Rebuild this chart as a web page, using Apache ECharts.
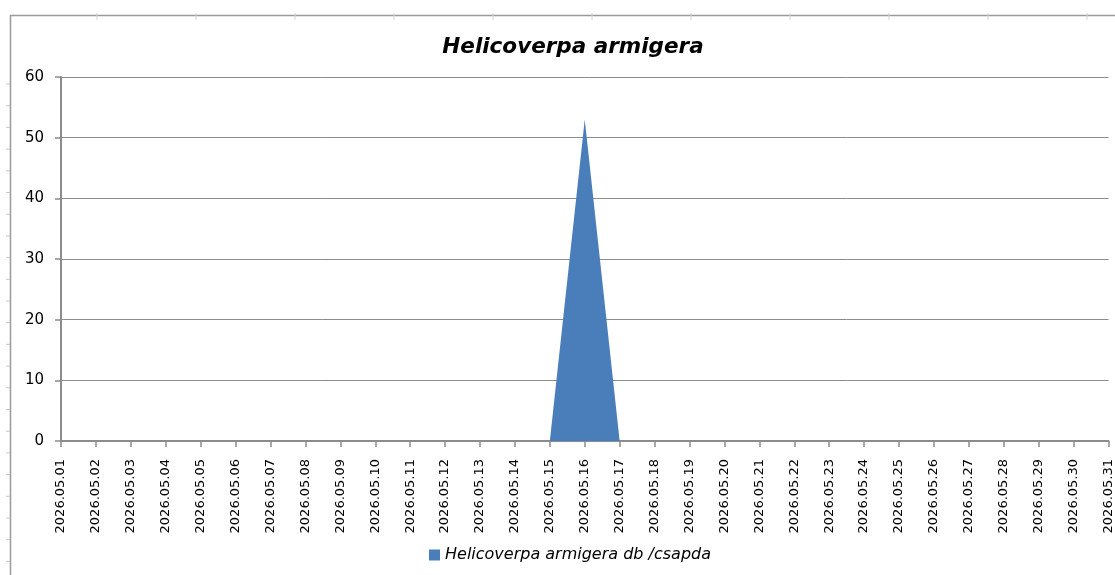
<!DOCTYPE html>
<html>
<head>
<meta charset="utf-8">
<script src="https://cdn.jsdelivr.net/npm/echarts@6/dist/echarts.min.js"></script>
<style>
  html, body { margin: 0; padding: 0; background: #fff; }
  #chart { width: 1115px; height: 575px; }
</style>
</head>
<body>
<div id="chart"></div>
<script>
// napi fogás (db / csapda)
const days = [
  '2026.05.01', '2026.05.02', '2026.05.03', '2026.05.04', '2026.05.05',
  '2026.05.06', '2026.05.07', '2026.05.08', '2026.05.09', '2026.05.10',
  '2026.05.11', '2026.05.12', '2026.05.13', '2026.05.14', '2026.05.15',
  '2026.05.16', '2026.05.17', '2026.05.18', '2026.05.19', '2026.05.20',
  '2026.05.21', '2026.05.22', '2026.05.23', '2026.05.24', '2026.05.25',
  '2026.05.26', '2026.05.27', '2026.05.28', '2026.05.29', '2026.05.30',
  '2026.05.31'
]
const catches = [
  0, 0, 0, 0, 0, 0, 0, 0, 0, 0,
  0, 0, 0, 0, 0, 53, 0, 0, 0, 0,
  0, 0, 0, 0, 0, 0, 0, 0, 0, 0, 0
]
const seriesName = 'Helicoverpa armigera db /csapda'
const titleText = 'Helicoverpa armigera'

const chart = echarts.init(document.getElementById('chart'))

// keret + a táblázat halvány jelölései
const frame = [
  {
    type: 'polyline',
    shape: { points: [[10.5, 575], [10.5, 15.5], [1115, 15.5]] },
    style: { stroke: '#9a9a9a', lineWidth: 1.5, fill: null }
  }
]
for (let x = 97; x < 1115; x += 99) {
  frame.push({
    type: 'line',
    shape: { x1: x, y1: 13, x2: x, y2: 20 },
    style: { stroke: '#d4d4d4', lineWidth: 1 }
  })
}
for (let y = 84; y < 575; y += 21.7) {
  frame.push({
    type: 'line',
    shape: { x1: 6, y1: y, x2: 10, y2: y },
    style: { stroke: '#c8c8c8', lineWidth: 1 }
  })
}

const option = {
  animation: false,
  graphic: frame,
  title: {
    text: titleText,
    left: 568,
    textAlign: 'center',
    top: 31,
    textStyle: {
      fontFamily: 'DejaVu Sans',
      fontSize: 21.5,
      fontWeight: 'bold',
      fontStyle: 'italic',
      color: '#000'
    }
  },
  legend: {
    bottom: 7,
    left: 424,
    itemWidth: 11,
    itemHeight: 11,
    icon: 'rect',
    itemGap: 4,
    textStyle: {
      fontFamily: 'DejaVu Sans',
      fontSize: 16,
      fontStyle: 'italic',
      color: '#000'
    },
    data: [seriesName]
  },
  grid: {
    left: 61,
    right: 3,
    top: 77,
    bottom: 134,
    containLabel: false
  },
  xAxis: {
    type: 'category',
    data: days,
    boundaryGap: false,
    axisLine: { lineStyle: { color: '#8c8c8c', width: 2 } },
    axisTick: { show: true, length: 6, alignWithLabel: true, lineStyle: { color: '#8c8c8c', width: 1.5 } },
    axisLabel: {
      rotate: 90,
      interval: 0,
      margin: 18,
      fontFamily: 'DejaVu Sans',
      fontSize: 13,
      color: '#000'
    },
    splitLine: { show: false }
  },
  yAxis: {
    type: 'value',
    min: 0,
    max: 60,
    interval: 10,
    axisLine: { show: true, lineStyle: { color: '#8c8c8c', width: 2 } },
    axisTick: { show: true, length: 6, lineStyle: { color: '#8c8c8c', width: 1.5 } },
    axisLabel: {
      margin: 17,
      fontFamily: 'DejaVu Sans',
      fontSize: 15,
      color: '#000'
    },
    splitLine: { show: true, lineStyle: { color: '#8c8c8c', width: 1 } }
  },
  series: [
    {
      name: seriesName,
      type: 'line',
      data: catches,
      symbol: 'none',
      lineStyle: { width: 0 },
      itemStyle: { color: '#4a7ebb' },
      areaStyle: { color: '#4a7ebb', opacity: 1 }
    }
  ]
}

chart.setOption(option)
</script>
</body>
</html>
